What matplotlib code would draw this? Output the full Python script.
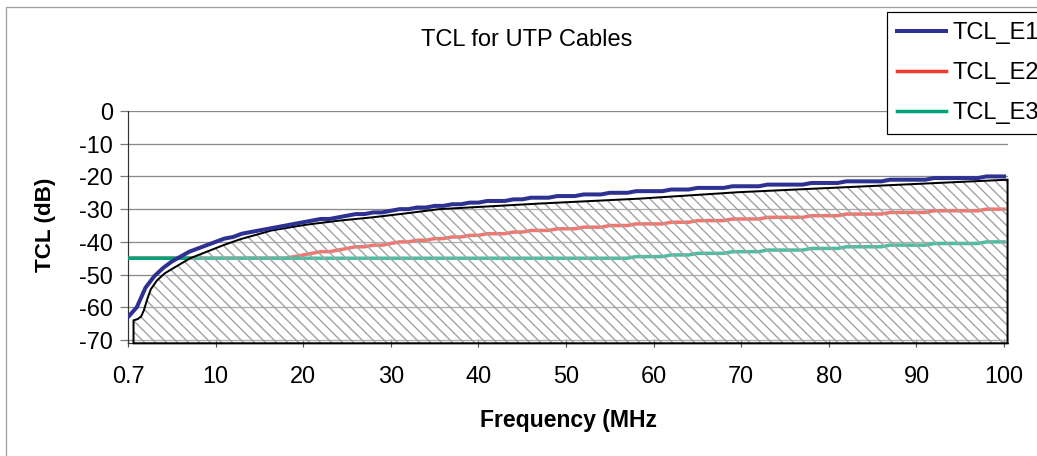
import matplotlib.pyplot as plt
import numpy as np
from matplotlib.patches import Rectangle

# frequency categories (MHz) as on the chart's category axis
freq_mhz = [0.7] + list(range(1, 101))
tick_freqs = [0.7, 10, 20, 30, 40, 50, 60, 70, 80, 90, 100]

tcl_e1 = [-63.0, -60.0, -54.0, -50.5, -48.0, -46.0, -44.5, -43.0, -42.0, -41.0,
          -40.0, -39.0, -38.5, -37.5, -37.0, -36.5, -36.0, -35.5, -35.0, -34.5,
          -34.0, -33.5, -33.0, -33.0, -32.5, -32.0, -31.5, -31.5, -31.0, -31.0,
          -30.5, -30.0, -30.0, -29.5, -29.5, -29.0, -29.0, -28.5, -28.5, -28.0,
          -28.0, -27.5, -27.5, -27.5, -27.0, -27.0, -26.5, -26.5, -26.5, -26.0,
          -26.0, -26.0, -25.5, -25.5, -25.5, -25.0, -25.0, -25.0, -24.5, -24.5,
          -24.5, -24.5, -24.0, -24.0, -24.0, -23.5, -23.5, -23.5, -23.5, -23.0,
          -23.0, -23.0, -23.0, -22.5, -22.5, -22.5, -22.5, -22.5, -22.0, -22.0,
          -22.0, -22.0, -21.5, -21.5, -21.5, -21.5, -21.5, -21.0, -21.0, -21.0,
          -21.0, -21.0, -20.5, -20.5, -20.5, -20.5, -20.5, -20.5, -20.0, -20.0,
          -20.0]

tcl_e2 = [-45.0, -45.0, -45.0, -45.0, -45.0, -45.0, -45.0, -45.0, -45.0, -45.0,
          -45.0, -45.0, -45.0, -45.0, -45.0, -45.0, -45.0, -45.0, -45.0, -44.5,
          -44.0, -43.5, -43.0, -43.0, -42.5, -42.0, -41.5, -41.5, -41.0, -41.0,
          -40.5, -40.0, -40.0, -39.5, -39.5, -39.0, -39.0, -38.5, -38.5, -38.0,
          -38.0, -37.5, -37.5, -37.5, -37.0, -37.0, -36.5, -36.5, -36.5, -36.0,
          -36.0, -36.0, -35.5, -35.5, -35.5, -35.0, -35.0, -35.0, -34.5, -34.5,
          -34.5, -34.5, -34.0, -34.0, -34.0, -33.5, -33.5, -33.5, -33.5, -33.0,
          -33.0, -33.0, -33.0, -32.5, -32.5, -32.5, -32.5, -32.5, -32.0, -32.0,
          -32.0, -32.0, -31.5, -31.5, -31.5, -31.5, -31.5, -31.0, -31.0, -31.0,
          -31.0, -31.0, -30.5, -30.5, -30.5, -30.5, -30.5, -30.5, -30.0, -30.0,
          -30.0]

tcl_e3 = [-45.0, -45.0, -45.0, -45.0, -45.0, -45.0, -45.0, -45.0, -45.0, -45.0,
          -45.0, -45.0, -45.0, -45.0, -45.0, -45.0, -45.0, -45.0, -45.0, -45.0,
          -45.0, -45.0, -45.0, -45.0, -45.0, -45.0, -45.0, -45.0, -45.0, -45.0,
          -45.0, -45.0, -45.0, -45.0, -45.0, -45.0, -45.0, -45.0, -45.0, -45.0,
          -45.0, -45.0, -45.0, -45.0, -45.0, -45.0, -45.0, -45.0, -45.0, -45.0,
          -45.0, -45.0, -45.0, -45.0, -45.0, -45.0, -45.0, -45.0, -44.5, -44.5,
          -44.5, -44.5, -44.0, -44.0, -44.0, -43.5, -43.5, -43.5, -43.5, -43.0,
          -43.0, -43.0, -43.0, -42.5, -42.5, -42.5, -42.5, -42.5, -42.0, -42.0,
          -42.0, -42.0, -41.5, -41.5, -41.5, -41.5, -41.5, -41.0, -41.0, -41.0,
          -41.0, -41.0, -40.5, -40.5, -40.5, -40.5, -40.5, -40.5, -40.0, -40.0,
          -40.0]

# hatched limit shape, in category positions / dB
limit_pos = [0.63, 0.63, 1.1, 1.5, 1.8, 2.2, 2.6, 3.3, 4.2, 5.2, 7.1, 9.0,
             10.9, 12.8, 16.4, 20.2, 24.1, 27.9, 31.7, 35.5, 46.9, 58.3, 69.8,
             100.4, 100.4]
limit_db = [-71.0, -64.0, -63.6, -62.8, -61.0, -57.5, -54.5, -51.8, -49.6, -48.0,
            -45.0, -43.0, -41.0, -39.2, -36.5, -34.8, -33.5, -32.5, -31.3, -30.0,
            -28.3, -26.8, -24.8, -21.0, -71.0]

DPI = 132
PX = 72 / DPI  # points per pixel
W, H = 1037, 456

plt.rcParams['font.family'] = ['Liberation Sans', 'DejaVu Sans']
plt.rcParams['axes.unicode_minus'] = False
plt.rcParams['hatch.linewidth'] = 1.4 * PX

fig = plt.figure(figsize=(W / DPI, H / DPI), dpi=DPI)
ax = fig.add_axes([128 / W, 1 - 343.3 / H, 880 / W, 232.3 / H])

x = np.arange(len(freq_mhz))

l2, = ax.plot(x, tcl_e2, color='#EE3B30', lw=3.5 * PX, zorder=3, label='TCL_E2')
l3, = ax.plot(x, tcl_e3, color='#00A27A', lw=3.5 * PX, zorder=3.1, label='TCL_E3')
ax.fill(limit_pos, limit_db, facecolor=(1, 1, 1, 0.3), edgecolor='#a2a2a2',
        hatch='\\\\\\\\', lw=0, zorder=4)
ax.fill(limit_pos, limit_db, facecolor='none', edgecolor='black',
        lw=2 * PX, zorder=4.5, clip_on=False)
l1, = ax.plot(x, tcl_e1, color='#2E3192', lw=4 * PX, zorder=5, label='TCL_E1')

ax.set_xlim(0, 100.45)
ax.set_ylim(-71, 0)
ax.set_yticks(range(-70, 1, 10))
ax.set_xticks([freq_mhz.index(f) for f in tick_freqs])
ax.set_xticklabels([str(f) for f in tick_freqs])
ax.grid(axis='y', color='#8a8a8a', lw=1.3 * PX, zorder=0)
ax.set_axisbelow(True)

for s in ['top', 'right']:
    ax.spines[s].set_visible(False)
for s in ['left', 'bottom']:
    ax.spines[s].set_color('#333333')
    ax.spines[s].set_linewidth(1.2 * PX)

ax.tick_params(axis='y', direction='out', length=8 * PX, width=1.2 * PX,
               pad=7 * PX, labelsize=23.5 * PX, color='#777777')
ax.tick_params(axis='x', direction='inout', length=8 * PX, width=1.2 * PX,
               pad=18 * PX, labelsize=23.5 * PX, color='#555555')

fig.text(527 / W, 1 - 40 / H, 'TCL for UTP Cables', ha='center', va='center',
         fontsize=23.6 * PX)
fig.text(45 / W, 1 - 225 / H, 'TCL (dB)', rotation=90, weight='bold',
         ha='center', va='center', fontsize=22.5 * PX)
fig.text(568 / W, 1 - 421 / H, 'Frequency (MHz', weight='bold',
         ha='center', va='center', fontsize=23 * PX)

# outer chart border (runs off the right and bottom edges)
fig.add_artist(Rectangle((6 / W, -1), 1, 2 - 7 / H, transform=fig.transFigure,
                         fill=False, edgecolor='#a0a0a0', lw=1.3 * PX))

leg = fig.legend([l1, l2, l3], ['TCL_E1', 'TCL_E2', 'TCL_E3'],
                 loc='upper left', bbox_to_anchor=(887 / W, 1 - 12 / H),
                 borderaxespad=0, fontsize=23.6 * PX, handlelength=2.1,
                 handletextpad=0.25, borderpad=0.42, labelspacing=0.76,
                 fancybox=False, edgecolor='black', framealpha=1)
leg.get_frame().set_linewidth(1.2 * PX)

fig.savefig('out.png', dpi=DPI)
